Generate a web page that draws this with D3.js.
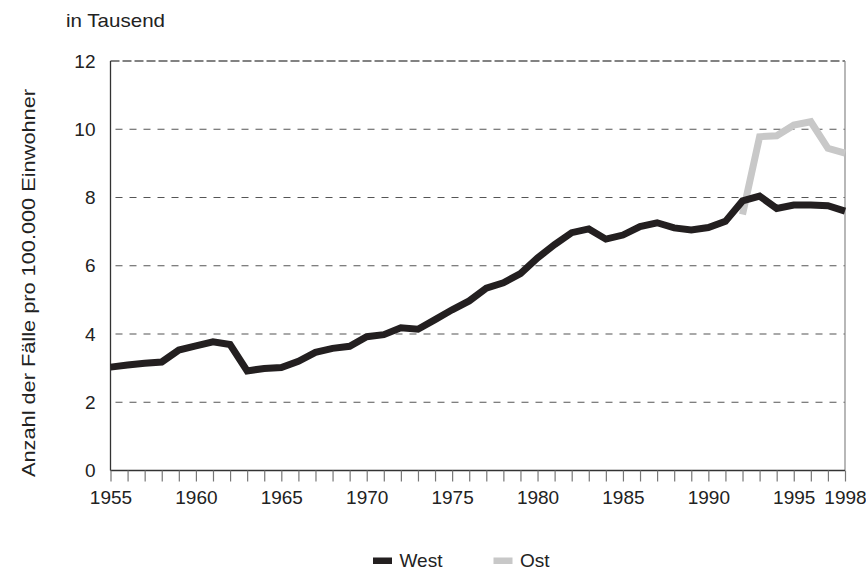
<!DOCTYPE html>
<html><head><meta charset="utf-8">
<script src="https://cdn.jsdelivr.net/npm/d3@7"></script>
<style>body{margin:0;background:#fff}svg{display:block;font-family:"Liberation Sans",Arial,sans-serif}</style>
</head><body><svg id="c" width="866" height="570"></svg>
<script>
const years = d3.range(1955, 1999);
const west = [3.03,3.09,3.14,3.18,3.53,3.65,3.77,3.69,2.92,2.99,3.02,3.2,3.46,3.58,3.64,3.92,3.98,4.18,4.14,4.42,4.71,4.97,5.34,5.5,5.77,6.23,6.62,6.97,7.08,6.78,6.9,7.15,7.26,7.11,7.05,7.12,7.3,7.9,8.04,7.68,7.78,7.78,7.76,7.6];
const ostYears = [1992,1993,1994,1995,1996,1997,1998];
const ost = [7.5,9.78,9.81,10.12,10.22,9.44,9.3];
const yTicks = [0,2,4,6,8,10,12];
const xLabels = [1955,1960,1965,1970,1975,1980,1985,1990,1995,1998];
const yTitle = "Anzahl der Fälle pro 100.000 Einwohner";
const unitLabel = "in Tausend";

const FF = "Liberation Sans, Arial, sans-serif";
const svg = d3.select("#c");
const L = 110.5, R = 845, T = 61, B = 470.5;
const x = d3.scaleLinear().domain([1955,1998]).range([L,R]);
const y = d3.scaleLinear().domain([0,12]).range([B,T]);

// gridlines
svg.append("g").selectAll("line").data(yTicks.filter(d=>d>0 && d<12)).join("line")
  .attr("x1", L+5).attr("x2", R).attr("y1", d=>y(d)).attr("y2", d=>y(d))
  .attr("stroke", "#555").attr("stroke-width", 1.2)
  .attr("stroke-dasharray", "7,7");
svg.append("line").attr("x1",L).attr("x2",R).attr("y1",y(12)).attr("y2",y(12))
  .attr("stroke","#5a5a5a").attr("stroke-width",1.3).attr("stroke-dasharray","9,3");
// right border
svg.append("line").attr("x1",R).attr("x2",R).attr("y1",T).attr("y2",B)
  .attr("stroke","#888").attr("stroke-width",1.2);

// x axis ticks
const xAxis = d3.axisBottom(x).tickValues(years).tickSize(11).tickFormat(d=>xLabels.includes(d)?d:"");
const gx = svg.append("g").attr("transform",`translate(0,${B})`).call(xAxis);
gx.select(".domain").attr("stroke","#333").attr("stroke-width",1.3).attr("d",`M${L},0H${R}`);
gx.selectAll(".tick line").attr("stroke","#777").attr("stroke-width",1.2);
gx.selectAll("text").attr("font-size",19).attr("fill","#222").attr("dy","0.71em").attr("y",20)
  .attr("font-family",FF);

// y axis
const yAxis = d3.axisLeft(y).tickValues(yTicks).tickSize(0).tickPadding(15);
const gy = svg.append("g").attr("transform",`translate(${L},0)`).call(yAxis);
gy.select(".domain").attr("stroke","#333").attr("stroke-width",1.3).attr("d",`M0,${T}V${B}`);
gy.selectAll("text").attr("font-size",19).attr("fill","#222").attr("font-family",FF);

// lines
const line = d3.line().x(d=>x(d[0])).y(d=>y(d[1])).curve(d3.curveLinear);
svg.append("path").datum(ostYears.map((yr,i)=>[yr,ost[i]]))
  .attr("d", line).attr("fill","none").attr("stroke","#c8c8c8").attr("stroke-width",7).attr("stroke-linejoin","miter");
svg.append("path").datum(years.map((yr,i)=>[yr,west[i]]))
  .attr("d", line).attr("fill","none").attr("stroke","#231f20").attr("stroke-width",7).attr("stroke-linejoin","miter");

// labels
svg.append("text").attr("x",66).attr("y",26.5).attr("font-size",19).attr("fill","#222")
  .attr("textLength",99).attr("lengthAdjust","spacingAndGlyphs").text(unitLabel);
svg.append("text").attr("transform","translate(35,283) rotate(-90)").attr("text-anchor","middle")
  .attr("font-size",19).attr("fill","#222")
  .attr("textLength",388).attr("lengthAdjust","spacingAndGlyphs").text(yTitle);

// legend
const leg = [{n:"West",c:"#231f20",x:373},{n:"Ost",c:"#c8c8c8",x:493.5}];
const lg = svg.append("g").selectAll("g").data(leg).join("g");
lg.append("rect").attr("x",d=>d.x).attr("y",557.5).attr("width",19).attr("height",6.5).attr("fill",d=>d.c);
lg.append("text").attr("x",d=>d.x+26.5).attr("y",566.5).attr("font-size",19).attr("fill","#222").text(d=>d.n);
</script></body></html>
